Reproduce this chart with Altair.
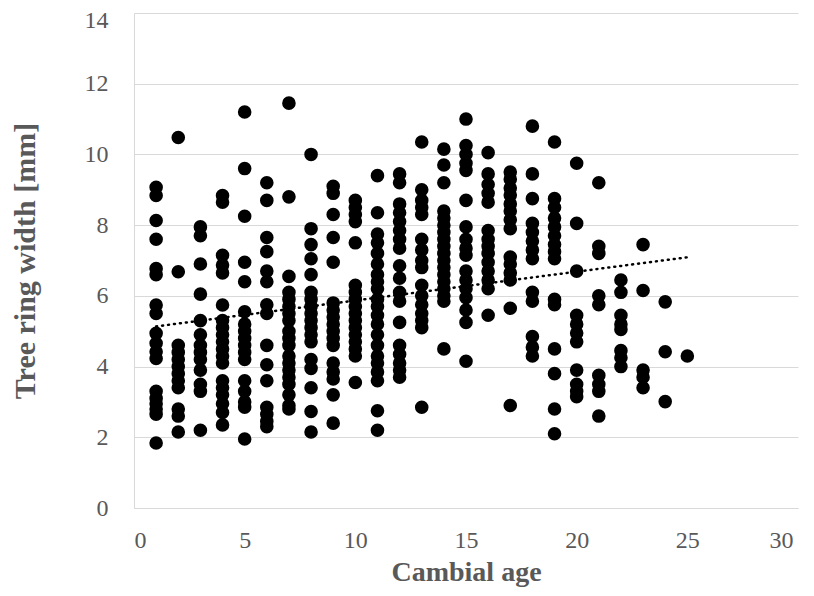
import altair as alt
import pandas as pd

# Tree ring widths [mm] read per cambial age (x)
age_01 = [9.07, 8.84, 8.13, 7.6, 6.77, 6.6, 5.74, 5.5, 4.94, 4.66, 4.42, 4.23, 3.3, 3.1, 2.95, 2.8, 2.65, 1.84]
age_02 = [10.48, 6.68, 4.6, 4.4, 4.2, 4.0, 3.8, 3.6, 3.4, 2.8, 2.6, 2.15]
age_03 = [7.95, 7.7, 6.9, 6.05, 5.3, 4.9, 4.6, 4.4, 4.2, 3.9, 3.5, 3.3, 2.2]
age_04 = [8.84, 8.65, 7.15, 6.87, 6.65, 5.74, 5.3, 5.1, 4.9, 4.7, 4.5, 4.3, 4.1, 3.6, 3.4, 3.2, 2.95, 2.7, 2.35]
age_05 = [11.2, 9.6, 8.25, 6.95, 6.4, 5.55, 5.2, 5.0, 4.8, 4.6, 4.4, 4.2, 3.6, 3.3, 3.0, 2.85, 1.95]
age_06 = [9.2, 8.7, 7.65, 7.25, 6.7, 6.4, 5.75, 5.5, 4.6, 4.05, 3.6, 2.85, 2.65, 2.45, 2.3]
age_07 = [11.45, 8.8, 6.55, 6.1, 5.9, 5.7, 5.5, 5.3, 5.0, 4.8, 4.6, 4.3, 4.1, 3.9, 3.7, 3.5, 3.2, 2.9, 2.8]
age_08 = [10.0, 7.9, 7.45, 7.05, 6.6, 6.1, 5.9, 5.7, 5.5, 5.3, 5.1, 4.9, 4.7, 4.2, 3.95, 3.4, 2.73, 2.15]
age_09 = [9.1, 8.9, 8.3, 7.65, 6.95, 5.8, 5.6, 5.4, 5.2, 5.0, 4.8, 4.6, 4.1, 3.85, 3.65, 3.2, 2.4]
age_10 = [8.7, 8.5, 8.3, 8.1, 7.5, 6.3, 6.1, 5.9, 5.7, 5.5, 5.3, 5.1, 4.9, 4.7, 4.5, 4.3, 3.55]
age_11 = [9.4, 8.35, 7.75, 7.5, 7.2, 6.9, 6.6, 6.4, 6.2, 5.9, 5.7, 5.45, 5.2, 4.9, 4.6, 4.3, 4.1, 3.85, 3.6, 2.75, 2.2]
age_12 = [9.45, 9.2, 8.6, 8.35, 8.1, 7.85, 7.6, 7.35, 6.85, 6.5, 6.1, 5.85, 5.25, 4.6, 4.35, 4.1, 3.9, 3.7]
age_13 = [10.35, 9.0, 8.7, 8.5, 8.3, 7.6, 7.3, 7.0, 6.8, 6.3, 6.0, 5.75, 5.5, 5.3, 5.1, 2.85]
age_14 = [10.15, 9.7, 9.2, 8.4, 8.2, 8.0, 7.8, 7.6, 7.4, 7.2, 7.0, 6.8, 6.6, 6.4, 6.2, 6.0, 5.85, 4.5]
age_15 = [11.0, 10.25, 10.0, 9.75, 9.55, 8.7, 7.95, 7.6, 7.35, 7.15, 6.7, 6.45, 6.2, 5.95, 5.6, 5.25, 4.15]
age_16 = [10.05, 9.45, 9.15, 8.9, 8.65, 7.85, 7.6, 7.4, 7.2, 6.95, 6.7, 6.45, 6.2, 5.45]
age_17 = [9.5, 9.3, 9.05, 8.85, 8.6, 8.4, 8.15, 7.9, 7.1, 6.9, 6.65, 6.45, 5.65, 2.9]
age_18 = [10.8, 9.45, 8.75, 8.05, 7.8, 7.55, 7.3, 7.05, 6.1, 5.85, 4.85, 4.55, 4.3]
age_19 = [10.35, 8.75, 8.5, 8.2, 7.95, 7.7, 7.45, 7.25, 7.05, 5.9, 5.75, 4.5, 3.8, 2.8, 2.1]
age_20 = [9.75, 8.05, 6.7, 5.45, 5.2, 4.95, 4.7, 3.9, 3.5, 3.3, 3.15]
age_21 = [9.2, 7.4, 7.2, 6.0, 5.75, 3.75, 3.5, 3.3, 2.6]
age_22 = [6.45, 6.1, 5.45, 5.2, 5.05, 4.45, 4.25, 4.0]
age_23 = [7.45, 6.15, 3.9, 3.7, 3.4]
age_24 = [5.83, 4.42, 3.01]
age_25 = [4.3]

columns = [age_01, age_02, age_03, age_04, age_05, age_06, age_07, age_08, age_09, age_10,
           age_11, age_12, age_13, age_14, age_15, age_16, age_17, age_18, age_19, age_20,
           age_21, age_22, age_23, age_24, age_25]

x_ticks = [0, 5, 10, 15, 20, 25, 30]
y_ticks = [0, 2, 4, 6, 8, 10, 12, 14]

rows = []
for i, col in enumerate(columns, start=1):
    for w in col:
        rows.append({"age": i, "width": w})
df = pd.DataFrame(rows)

FONT = "Liberation Serif"
GRAY = "#595959"

x_enc = alt.X("age:Q", title="Cambial age",
              scale=alt.Scale(domain=[0, 30], nice=False),
              axis=alt.Axis(values=x_ticks, grid=False, ticks=False,
                            domainColor="#d9d9d9", labelPadding=20, titlePadding=6,
                            titleFontSize=28,
                            labelOffset={"condition": {"test": "datum.value == 30", "value": -5}, "value": 0}))
y_enc = alt.Y("width:Q", title="Tree ring width [mm]",
              scale=alt.Scale(domain=[0, 14], nice=False),
              axis=alt.Axis(values=y_ticks, grid=True, ticks=False,
                            gridColor="#d9d9d9", domainColor="#d9d9d9",
                            labelPadding=26, titlePadding=44,
                            labelOffset={"condition": {"test": "datum.value == 14", "value": 7}, "value": 0}))

points = alt.Chart(df).mark_circle(size=185, color="black", opacity=1).encode(x=x_enc, y=y_enc)

trend = alt.Chart(df).transform_regression(
    "age", "width", extent=[1, 25]
).mark_line(color="black", strokeWidth=2.5, strokeDash=[1, 5], strokeCap="round").encode(
    x="age:Q", y="width:Q"
)

chart = alt.layer(points, trend).properties(
    width=664, height=495,
    autosize=alt.AutoSizeParams(type="none"),
    padding={"left": 126, "top": 5, "right": 8, "bottom": 80},
).configure_axis(
    labelFont=FONT, labelFontSize=24, labelColor=GRAY,
    titleFont=FONT, titleFontSize=30, titleFontWeight="bold", titleColor=GRAY,
).configure_view(stroke=None)

chart.save("out.html", embed_options={"renderer": "svg", "actions": False})
